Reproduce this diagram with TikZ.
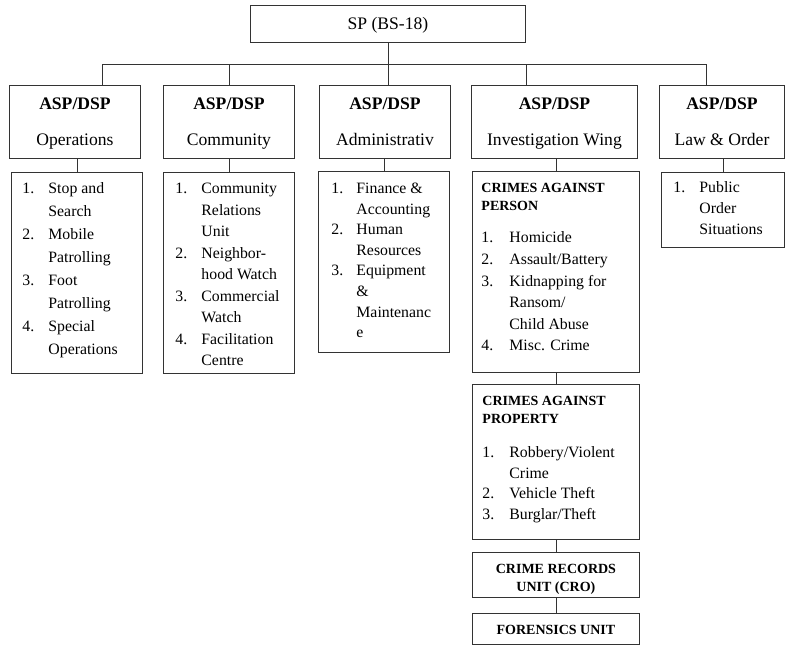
\documentclass[tikz,border=0pt]{standalone}
\usepackage{fontspec}
\setmainfont{Liberation Serif}
\usetikzlibrary{calc}
\newcommand{\hdfont}{\fontsize{17.6}{36}\selectfont}
\newcommand{\lsfont}[1]{\fontsize{15.8}{#1}\selectfont}
\newcommand{\cbfont}{\fontsize{14}{18.5}\selectfont\bfseries}
\newcommand{\numlab}[2][26pt]{\makebox[#1][l]{#2}}
\newcommand{\cbox}[4]{\parbox[c][#2][t]{#1}{\centering\rule{0pt}{#3}#4\par}}
\newcommand{\lbox}[5]{\parbox[c][#2][t]{#1}{\leftskip=#3\relax\rule{0pt}{#4}#5\par}}
\begin{document}
\begin{tikzpicture}[x=1pt,y=-1pt,
  box/.style={draw=black!80, line width=0.9pt, inner sep=0pt, anchor=north west},
  conn/.style={draw=black!80, line width=0.9pt}]
\useasboundingbox (0,0) rectangle (785,645);
% top
\node[box] (SP) at (250,5) {\cbox{275pt}{37pt}{24.5pt}{\hdfont SP (BS-18)}};
% heads
\node[box] (B1) at (9,85) {\cbox{131pt}{73pt}{24pt}{\hdfont\textbf{ASP/DSP}\\Operations}};
\node[box] (B2) at (163,85) {\cbox{131pt}{73pt}{24pt}{\hdfont\textbf{ASP/DSP}\\Community}};
\node[box] (B3) at (319,85) {\cbox{131pt}{73pt}{24pt}{\hdfont\textbf{ASP/DSP}\\Administrativ}};
\node[box] (B4) at (471,85) {\cbox{166pt}{73pt}{24pt}{\hdfont\textbf{ASP/DSP}\\Investigation Wing}};
\node[box] (B5) at (659,85) {\cbox{125pt}{73pt}{24pt}{\hdfont\textbf{ASP/DSP}\\Law \& Order}};
% lists
\node[box] (L1) at (11,172) {\lbox{131pt}{201pt}{11pt}{21.5pt}{\lsfont{23}%
  \numlab{1.}Stop and\\ \numlab{}Search\\ \numlab{2.}Mobile\\ \numlab{}Patrolling\\
  \numlab{3.}Foot\\ \numlab{}Patrolling\\ \numlab{4.}Special\\ \numlab{}Operations}};
\node[box] (L2) at (163,172) {\lbox{131pt}{201pt}{12pt}{21.5pt}{\lsfont{21.5}%
  \numlab{1.}Community\\ \numlab{}Relations\\ \numlab{}Unit\\ \numlab{2.}Neighbor-\\
  \numlab{}hood Watch\\ \numlab{3.}Commercial\\ \numlab{}Watch\\ \numlab{4.}Facilitation\\ \numlab{}Centre}};
\node[box] (L3) at (318,171) {\lbox{131pt}{181pt}{13pt}{22pt}{\lsfont{20.6}%
  \numlab[25pt]{1.}Finance \&\\ \numlab[25pt]{}Accounting\\ \numlab[25pt]{2.}Human\\ \numlab[25pt]{}Resources\\
  \numlab[25pt]{3.}Equipment\\ \numlab[25pt]{}\&\\ \numlab[25pt]{}Maintenanc\\ \numlab[25pt]{}e}};
\node[box] (L4a) at (472,171) {\lbox{167pt}{201pt}{9pt}{20.7pt}{{\cbfont CRIMES AGAINST\\PERSON\par}\vspace{10.7pt}%
  {\lsfont{21.6}\numlab[28pt]{1.}Homicide\\ \numlab[28pt]{2.}Assault/Battery\\ \numlab[28pt]{3.}Kidnapping for\\
  \numlab[28pt]{}Ransom/\\ \numlab[28pt]{}Child Abuse\\ \numlab[28pt]{4.}Misc. Crime\par}}};
\node[box] (L4b) at (472,384) {\lbox{167pt}{155pt}{10pt}{21pt}{{\cbfont CRIMES AGAINST\\PROPERTY\par}\vspace{13.5pt}%
  {\lsfont{20.5}\numlab[27pt]{1.}Robbery/Violent\\ \numlab[27pt]{}Crime\\ \numlab[27pt]{2.}Vehicle Theft\\
  \numlab[27pt]{3.}Burglar/Theft\par}}};
\node[box] (L4c) at (472,552) {\cbox{167pt}{45pt}{21pt}{\cbfont\baselineskip=18pt CRIME RECORDS\\UNIT (CRO)}};
\node[box] (L4d) at (472,613) {\cbox{167pt}{31pt}{21pt}{\cbfont FORENSICS UNIT}};
\node[box] (L5) at (661,172) {\lbox{123pt}{75pt}{12pt}{20pt}{\lsfont{21}%
  \numlab{1.}Public\\ \numlab{}Order\\ \numlab{}Situations}};
% connectors
\coordinate (k1) at (102,64);
\coordinate (k2) at (229,64);
\coordinate (k4) at (526,64);
\coordinate (k5) at (706,64);
\draw[conn] (SP.south) -- (SP.south |- B3.north);
\draw[conn] (k1) -- (k5);
\draw[conn] (k1) -- (k1 |- B1.north);
\draw[conn] (k2) -- (k2 |- B2.north);
\draw[conn] (k4) -- (k4 |- B4.north);
\draw[conn] (k5) -- (k5 |- B5.north);
\draw[conn] (L1.north) -- (L1.north |- B1.south);
\draw[conn] (L2.north) -- (L2.north |- B2.south);
\draw[conn] (L3.north) -- (L3.north |- B3.south);
\draw[conn] (L4a.north) -- (L4a.north |- B4.south);
\draw[conn] (L5.north) -- (L5.north |- B5.south);
\draw[conn] (L4a.south) -- (L4b.north);
\draw[conn] (L4b.south) -- (L4c.north);
\draw[conn] (L4c.south) -- (L4d.north);
\end{tikzpicture}
\end{document}
